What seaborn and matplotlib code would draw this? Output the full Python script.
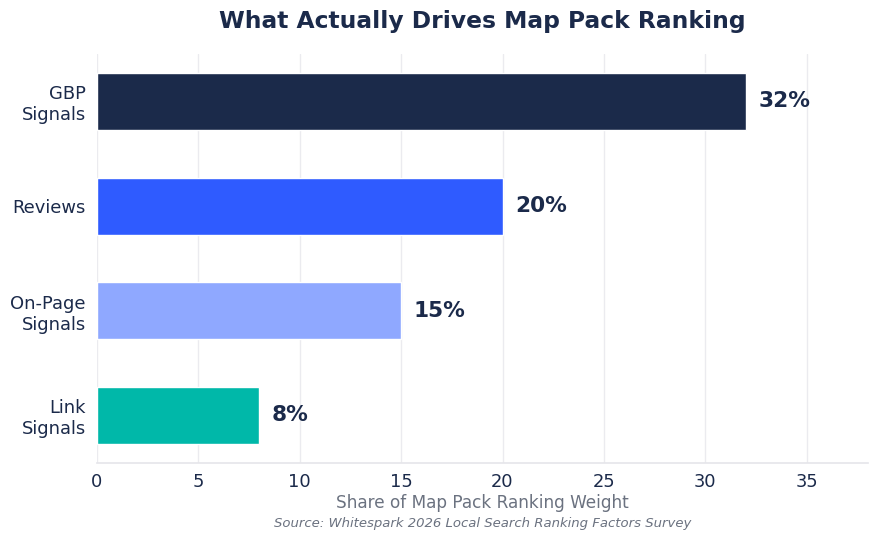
import matplotlib
matplotlib.use("Agg")
import matplotlib.pyplot as plt
import seaborn as sns
import pandas as pd

categories = ["GBP\nSignals", "Reviews", "On-Page\nSignals", "Link\nSignals"]
values = [32, 20, 15, 8]
labels = ["32%", "20%", "15%", "8%"]
colors = ["#1B2A4A", "#2F5BFF", "#8FA8FF", "#00B8A9"]
xticks = [0, 5, 10, 15, 20, 25, 30, 35]

NAVY = "#1B2A4A"
GRAY = "#6B7280"

sns.set_theme(style="white")
plt.rcParams["font.family"] = ["DejaVu Sans"]

df = pd.DataFrame({"cat": categories, "val": values})

fig = plt.figure(figsize=(8.8, 5.42), dpi=100)
ax = fig.add_axes([0.110, 0.1458, 0.876, 0.7546])

sns.barplot(data=df, x="val", y="cat", hue="cat", palette=colors, legend=False,
            width=0.545, ax=ax, saturation=1, zorder=3)

ax.set_xlim(0, 38)
ax.set_ylim(3.454, -0.454)
ax.set_xticks(xticks)
ax.grid(axis="x", color="#EBEBEF", linewidth=1, zorder=0)
ax.set_axisbelow(True)
for s in ["top", "right", "left"]:
    ax.spines[s].set_visible(False)
ax.spines["bottom"].set_color("#E5E5EA")
ax.spines["bottom"].set_linewidth(1.2)

ax.tick_params(axis="both", colors=NAVY, labelsize=12.9, length=4, width=0.8)
ax.tick_params(axis="x", color="#888888")
ax.tick_params(axis="y", color="#888888", pad=4)
for t in ax.get_yticklabels():
    t.set_horizontalalignment("right")
    t.set_multialignment("right")
ax.set_ylabel("")
ax.set_xlabel("Share of Map Pack Ranking Weight", color=GRAY, fontsize=12.2, labelpad=2)

for i, (v, lab) in enumerate(zip(values, labels)):
    ax.annotate(lab, xy=(v, i), xytext=(9, 0), textcoords="offset points",
                va="center", ha="left", fontsize=15.6, fontweight="bold", color=NAVY)

fig.text(0.548, 0.96, "What Actually Drives Map Pack Ranking", ha="center", va="center",
         fontsize=16.8, fontweight="bold", color=NAVY)
fig.text(0.548, 0.035, "Source: Whitespark 2026 Local Search Ranking Factors Survey",
         ha="center", va="center", fontsize=9.5, style="italic", color=GRAY)

fig.savefig("out.png", dpi=100)
